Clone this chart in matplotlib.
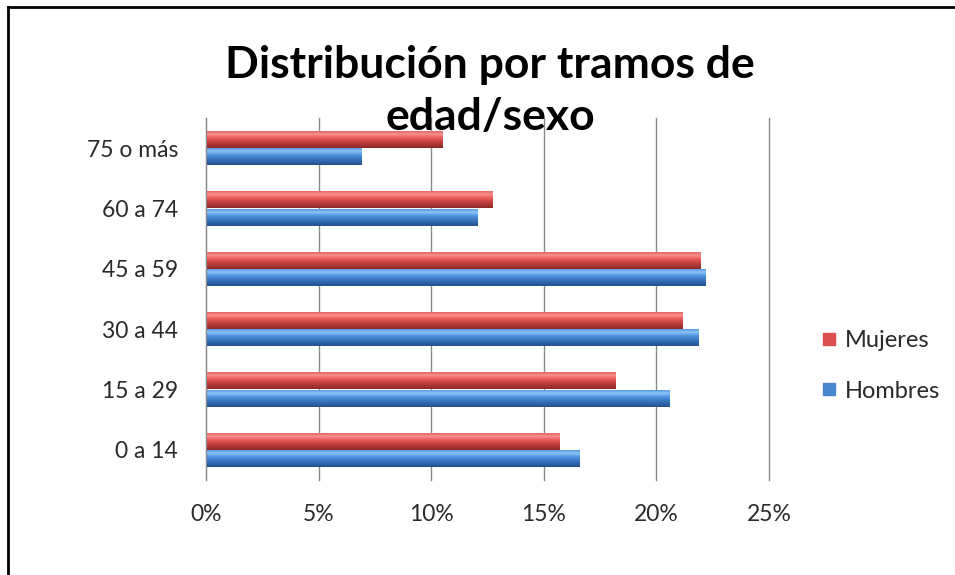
import numpy as np
import matplotlib
matplotlib.use("Agg")
import matplotlib.pyplot as plt
from matplotlib.colors import LinearSegmentedColormap
from matplotlib.lines import Line2D

categories = ["0 a 14", "15 a 29", "30 a 44", "45 a 59", "60 a 74", "75 o más"]
hombres = [16.6, 20.6, 21.85, 22.2, 12.05, 6.9]
mujeres = [15.7, 18.2, 21.15, 21.95, 12.7, 10.5]
xticks = [0, 5, 10, 15, 20, 25]
xtick_labels = ["0%", "5%", "10%", "15%", "20%", "25%"]
title = "Distribución por tramos de\nedad/sexo"

plt.rcParams['font.family'] = ['Lato', 'DejaVu Sans']

fig = plt.figure(figsize=(9.55, 5.75), dpi=100)
ax = fig.add_axes([206/955, 1-480/575, 563/955, 362/575])

y = np.arange(len(categories))
h = 0.28
bars_m = ax.barh(y + h/2 + 0.005, mujeres, height=h, color="#D9504E", zorder=3)
bars_h = ax.barh(y - h/2 - 0.005, hombres, height=h, color="#4A86CF", zorder=3)

red_cmap = LinearSegmentedColormap.from_list("r", [(0, "#8E2A28"), (0.35, "#C0403E"), (0.6, "#E85C5A"), (0.82, "#F7908E"), (1.0, "#E46664")])
blue_cmap = LinearSegmentedColormap.from_list("b", [(0, "#22508C"), (0.35, "#3A74BE"), (0.6, "#4F92E0"), (0.82, "#8CC4F6"), (1.0, "#5A9AE2")])
grad = np.linspace(0, 1, 64).reshape(-1, 1)
for bars, cmap in ((bars_m, red_cmap), (bars_h, blue_cmap)):
    for p in bars:
        x0, y0 = p.get_x(), p.get_y()
        w, hh = p.get_width(), p.get_height()
        im = ax.imshow(grad, cmap=cmap, aspect="auto", origin="lower",
                       extent=[x0, x0 + w, y0, y0 + hh], zorder=4)
        im.set_clip_path(p)
        p.set_edgecolor("none")

ax.set_xlim(0, 25)
ax.set_ylim(-0.5, len(categories) - 0.5)
ax.set_xticks(xticks)
ax.set_xticklabels(xtick_labels)
ax.set_yticks(y)
ax.set_yticklabels(categories)
ax.tick_params(axis="both", length=0, labelsize=16.5, labelcolor="#2A2A2A")
ax.tick_params(axis="y", pad=20)
ax.tick_params(axis="x", pad=17)
ax.grid(axis="x", color="#8A8A8A", linewidth=1, zorder=0)
for gl in ax.get_xgridlines():
    gl.set_clip_on(False)
ax.set_axisbelow(True)
for s in ["top", "right", "bottom"]:
    ax.spines[s].set_visible(False)
ax.spines["left"].set_color("#8A8A8A")
ax.spines["left"].set_zorder(5)

fig.text(490/955, 1-91/575, title, ha="center", va="center", fontsize=32,
         fontweight="bold", color="#000000", linespacing=1.35, zorder=10)

handles = [Line2D([], [], marker="s", linestyle="none", markersize=9, color="#D9504E", label="Mujeres"),
           Line2D([], [], marker="s", linestyle="none", markersize=9, color="#4A86CF", label="Hombres")]
fig.legend(handles=handles, loc="center left", bbox_to_anchor=(820/955, 1-366/575),
           frameon=False, fontsize=17, handletextpad=0.25, labelspacing=1.25,
           handlelength=0.8, borderpad=0, borderaxespad=0,
           labelcolor="#2A2A2A")

fig.add_artist(Line2D([8/955, 1.0], [1-7/575, 1-7/575], transform=fig.transFigure, color="black", linewidth=2))
fig.add_artist(Line2D([8/955, 8/955], [0, 1-7/575], transform=fig.transFigure, color="black", linewidth=2))

fig.savefig("out.png", dpi=100, facecolor="white")
